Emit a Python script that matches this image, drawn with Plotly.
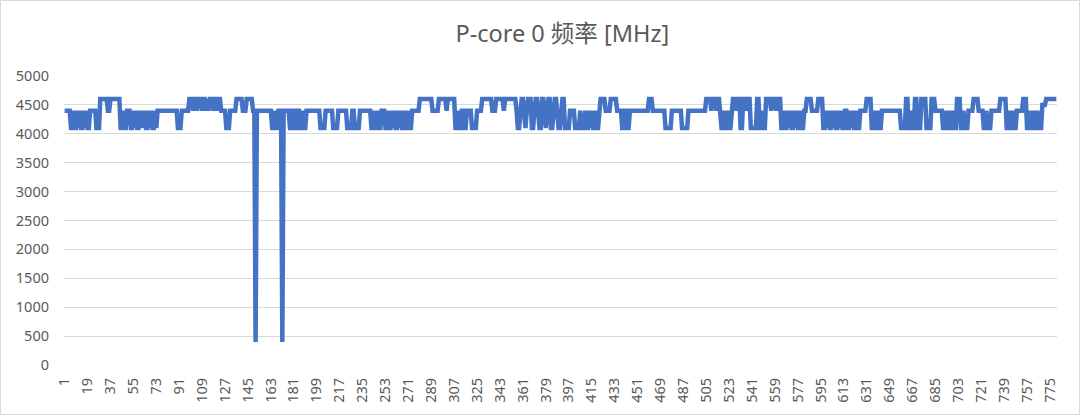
import plotly.graph_objects as go

# Frequency samples, stored as (value MHz, run length) pairs in sample order
freq_runs = [
    (4400, 5),
    (4100, 2), (4400, 1), (4100, 2), (4400, 1), (4100, 1), (4400, 1), (4100, 2), (4400, 1),
    (4100, 1), (4400, 1), (4100, 2), (4400, 2),
    (4400, 3), (4100, 3), (4600, 6), (4400, 2), (4600, 8),
    (4100, 2), (4400, 1), (4100, 2), (4400, 3),
    (4100, 2), (4400, 1), (4100, 1), (4400, 1), (4100, 2), (4400, 1), (4100, 1), (4400, 1),
    (4100, 1), (4400, 1), (4100, 2), (4400, 1), (4100, 1), (4400, 1), (4100, 2), (4400, 1), (4100, 1),
    (4400, 16), (4100, 3), (4400, 6),
    (4600, 3), (4400, 1), (4600, 2), (4400, 1), (4600, 3), (4400, 1), (4600, 2), (4400, 1),
    (4600, 1), (4400, 1), (4600, 3), (4400, 1), (4600, 2), (4400, 1), (4600, 2),
    (4400, 4), (4100, 3), (4400, 5), (4600, 5), (4400, 3), (4600, 5), (4400, 2),
    (400, 1), (4400, 12),
    (4100, 2), (4400, 1), (4100, 2), (4400, 1), (4400, 2),
    (400, 1), (4400, 5),
    (4100, 2), (4400, 2), (4100, 2), (4400, 2), (4100, 2), (4400, 1), (4100, 2),
    (4400, 11), (4100, 4), (4400, 6), (4100, 4), (4400, 1), (4400, 6), (4100, 4), (4400, 1),
    (4400, 1), (4100, 4), (4400, 1), (4400, 8),
    (4100, 2), (4400, 1), (4100, 2), (4400, 1), (4100, 2), (4400, 1), (4400, 2),
    (4100, 2), (4400, 1), (4100, 2), (4400, 1), (4100, 1), (4400, 1), (4100, 2), (4400, 1),
    (4100, 1), (4400, 1), (4100, 2), (4400, 1), (4100, 2), (4400, 1), (4100, 2),
    (4400, 6), (4600, 10), (4400, 5), (4600, 6), (4400, 1), (4600, 6),
    (4100, 2), (4400, 1), (4100, 2), (4400, 2), (4100, 2),
    (4400, 4), (4100, 4), (4400, 4), (4600, 8), (4400, 3), (4600, 6), (4400, 1), (4600, 7),
    (4600, 2), (4400, 1), (4100, 2), (4400, 1), (4600, 2), (4400, 1), (4100, 1), (4400, 1),
    (4600, 3), (4100, 2), (4400, 1), (4600, 2), (4400, 1), (4100, 2), (4600, 2), (4400, 1),
    (4100, 1), (4400, 1), (4600, 2), (4100, 2), (4400, 1), (4600, 2), (4400, 1), (4100, 2),
    (4400, 1), (4600, 2),
    (4100, 4), (4400, 4), (4100, 4), (4400, 1), (4100, 3),
    (4400, 1), (4100, 2), (4400, 1), (4100, 1), (4400, 1), (4100, 2), (4400, 1), (4100, 2), (4400, 1),
    (4600, 4), (4400, 4), (4600, 5), (4400, 4),
    (4100, 2), (4400, 2), (4100, 2),
    (4400, 15), (4600, 3), (4400, 10), (4100, 5), (4400, 8), (4100, 5), (4400, 14),
    (4600, 4), (4400, 1), (4600, 3), (4400, 1), (4600, 2),
    (4400, 1), (4100, 2), (4400, 1), (4100, 2), (4400, 1), (4100, 2), (4400, 1),
    (4600, 3), (4400, 1), (4600, 2), (4100, 2), (4600, 3), (4400, 1), (4600, 2), (4100, 2),
    (4100, 3), (4600, 2), (4100, 2), (4400, 1), (4100, 2),
    (4600, 4), (4400, 1), (4600, 3), (4400, 1), (4600, 3),
    (4100, 2), (4400, 1), (4100, 2), (4400, 1), (4100, 1),
    (4400, 1), (4100, 2), (4400, 1), (4100, 1), (4400, 1), (4100, 2), (4400, 1), (4100, 2), (4400, 1),
    (4400, 1), (4600, 4), (4400, 5), (4600, 4),
    (4100, 2), (4400, 1), (4100, 1), (4400, 1), (4100, 2), (4400, 1), (4100, 1), (4400, 1),
    (4100, 2), (4400, 1), (4100, 1), (4400, 1), (4100, 2), (4400, 1),
    (4400, 1), (4100, 2), (4400, 1), (4100, 1), (4400, 1), (4100, 2), (4400, 1), (4100, 2),
    (4400, 5), (4600, 4),
    (4100, 2), (4400, 1), (4100, 2), (4400, 1), (4100, 2), (4400, 1),
    (4400, 14), (4100, 4), (4600, 2), (4100, 2), (4400, 1), (4100, 2), (4600, 2), (4100, 3),
    (4600, 4), (4100, 4), (4600, 3), (4400, 6),
    (4100, 2), (4400, 1), (4100, 2), (4400, 1), (4100, 2), (4400, 1), (4100, 2),
    (4600, 3), (4100, 2), (4400, 1), (4100, 3), (4400, 4), (4600, 4), (4400, 4),
    (4100, 2), (4400, 1), (4100, 3), (4400, 7), (4600, 5),
    (4100, 2), (4400, 1), (4100, 2), (4400, 1), (4100, 2),
    (4400, 5), (4600, 3),
    (4100, 2), (4400, 1), (4100, 2), (4400, 1), (4100, 2), (4400, 1), (4100, 3),
    (4500, 3), (4600, 9),
]

y_ticks = [0, 500, 1000, 1500, 2000, 2500, 3000, 3500, 4000, 4500, 5000]
x_tick_labels = [1, 19, 37, 55, 73, 91, 109, 127, 145, 163, 181, 199, 217, 235, 253,
                 271, 289, 307, 325, 343, 361, 379, 397, 415, 433, 451, 469, 487, 505,
                 523, 541, 559, 577, 595, 613, 631, 649, 667, 685, 703, 721, 739, 757, 775]
title_text = "P-core 0 频率 [MHz]"

freq = []
for v, n in freq_runs:
    freq.extend([v] * n)
samples = list(range(1, len(freq) + 1))

W, H = 1080, 415
L, R, T, B = 64, 23, 76, 50
pw, ph = W - L - R, H - T - B

fig = go.Figure()
fig.add_trace(go.Scatter(
    x=samples, y=freq, mode="lines",
    line=dict(color="#4472C4", width=4.5),
    hoverinfo="skip", showlegend=False,
))

font_family = "Noto Sans, Noto Sans CJK SC, sans-serif"
fig.update_layout(
    width=W, height=H,
    margin=dict(l=L, r=R, t=T, b=B),
    paper_bgcolor="white", plot_bgcolor="white",
    title=dict(text=title_text, x=542 / W, xref="paper", xanchor="center",
               y=1 - 34 / H, yanchor="middle",
               font=dict(family=font_family, size=23.5, color="#595959")),
    font=dict(family=font_family, color="#595959"),
    shapes=[dict(type="rect", xref="paper", yref="paper",
                 x0=(0.5 - L) / pw, x1=(W - 0.5 - L) / pw,
                 y0=-(B - 0.5) / ph, y1=1 + (T - 0.5) / ph,
                 line=dict(color="#d9d9d9", width=1), layer="below")],
)
fig.update_xaxes(
    range=[0.5, len(freq) + 0.5],
    tickmode="array", tickvals=x_tick_labels, ticktext=[str(t) for t in x_tick_labels],
    tickangle=-90, tickfont=dict(size=14.5, color="#595959", family=font_family),
    showgrid=False, zeroline=False, showline=False, ticks="",
    ticklabelstandoff=9,
)
fig.update_yaxes(
    range=[0, 5000],
    tickmode="array", tickvals=y_ticks, ticktext=[str(t) for t in y_ticks],
    tickfont=dict(size=14.5, color="#595959", family=font_family),
    showgrid=True, gridcolor="#d9d9d9", gridwidth=1,
    zeroline=False, showline=False, ticks="",
    ticklabelstandoff=14,
)

fig.write_html("out.html", config={"displayModeBar": False},
               post_script="document.body.style.margin='0';document.body.style.padding='0';")
